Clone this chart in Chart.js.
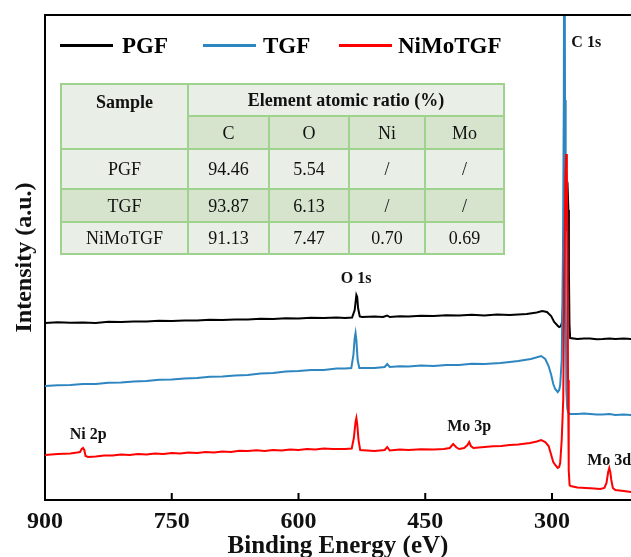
<!DOCTYPE html>
<html><head><meta charset="utf-8">
<script src="https://cdn.jsdelivr.net/npm/chart.js@4/dist/chart.umd.min.js"></script>
<style>
html,body{margin:0;padding:0;background:#fff;overflow:hidden;}
#wrap{position:relative;width:631px;height:557px;}
#c{position:absolute;left:0;top:0;}
.legtxt{position:absolute;font:bold 23px 'Liberation Serif',serif;line-height:23px;height:23px;top:34px;}
.legline{position:absolute;height:3px;top:44px;width:53px;}
table{position:absolute;left:60px;top:83px;border-collapse:collapse;table-layout:fixed;font:18px 'Liberation Serif',serif;color:#111;}
td{border:2px solid #9fd28c;text-align:center;padding:0;line-height:18px;}
td.b{font-weight:bold;}
.lt{background:#e9eee6;}
.dk{background:#d6e4ce;}
</style>
</head><body>
<div id="wrap">
<canvas id="c" width="631" height="557"></canvas>
<div class="legline" style="left:60px;background:#000"></div>
<div class="legtxt" style="left:122px">PGF</div>
<div class="legline" style="left:203px;background:#2e86c1"></div>
<div class="legtxt" style="left:263px">TGF</div>
<div class="legline" style="left:339px;background:#ff0000"></div>
<div class="legtxt" style="left:398px">NiMoTGF</div>
<table id="tbl">
<colgroup><col style="width:127px"><col style="width:81px"><col style="width:80px"><col style="width:76px"><col style="width:79px"></colgroup>
<tbody id="tb"></tbody>
</table>
</div>
<script>
// ---------- data ----------
const xTickValues = [900, 750, 600, 450, 300];

const pgfEnergy = [900, 885, 870, 855, 840, 825, 810, 795, 780, 765, 750, 735, 720, 705, 690, 675, 660, 645, 630, 615, 600, 585, 570, 555, 545, 536.6, 533.5, 531.5, 530.5, 529.5, 527.5, 524.7, 510, 500, 495, 492, 480, 470, 455, 440, 425, 410, 395, 380, 365, 350, 330, 318, 311.6, 306, 301, 297.4, 293, 291.5, 289.5, 288, 286.5, 285.5, 284.5, 283.5, 282.5, 281.4, 280.6, 280, 279.3, 278.5, 270, 262, 255, 247, 240, 232, 225, 215, 206.2];
const pgfIntensity = [177, 177.8, 177.2, 177.6, 177, 178.2, 178, 178.6, 178.4, 179.2, 179, 179.6, 179.4, 180.2, 180, 180.6, 180.4, 181.2, 181, 181.8, 181.5, 182.2, 182, 182.6, 182, 182.5, 190, 205, 203, 192, 183.5, 183, 183.6, 183, 184.5, 183, 183.8, 183.5, 184.2, 184, 184.8, 184.5, 185.2, 184.5, 185.4, 185, 186, 187.5, 189, 188, 184, 178, 174, 173, 174, 178, 200, 235, 270, 295, 305, 310, 290, 230, 175, 162, 161, 161.6, 161.5, 160.8, 161, 161.5, 161, 161.4, 161];

const tgfEnergy = [900, 885, 870, 855, 840, 825, 810, 795, 780, 765, 750, 735, 720, 705, 690, 675, 660, 645, 630, 615, 600, 585, 570, 555, 545, 537.5, 535, 533.5, 532.5, 531.5, 530, 528, 510, 498, 495, 492, 480, 470, 455, 440, 425, 410, 395, 380, 361, 350, 340, 325, 312.8, 308, 304, 300.9, 298.5, 296.2, 293.2, 291.5, 290.3, 288.5, 287, 286, 285.3, 284.6, 283.8, 283, 282, 281, 279, 270, 262, 255, 247, 240, 232, 225, 215, 206.2];
const tgfIntensity = [114, 114.8, 115, 116, 116, 117.2, 117.5, 118.6, 119, 120.2, 120.5, 121.6, 122, 123.2, 123.5, 124.6, 125, 126.4, 127, 128.4, 129, 130, 130, 131.4, 131.5, 132, 145, 162, 167, 160, 140, 132, 132, 133, 136, 133, 133.8, 133.5, 134.4, 134, 135, 135, 136.2, 136, 137, 138, 139, 141, 144, 141, 134, 125, 116, 111, 108, 110, 115, 140, 250, 400, 700, 400, 200, 110, 92, 88, 86, 86, 86.6, 86, 85.4, 85.5, 86, 85, 85.4, 85];

const nimoEnergy = [900, 885, 870, 862, 858.6, 856.5, 855, 853.5, 852, 849, 840, 830, 820, 810, 800, 790, 780, 770, 760, 750, 740, 730, 720, 710, 700, 690, 680, 670, 660, 650, 640, 630, 620, 610, 600, 590, 580, 570, 560, 545, 537, 534.5, 532.5, 531.5, 530.5, 529, 527, 510, 498, 495, 492, 480, 470, 455, 440, 428, 421, 417, 413, 409.8, 404, 400, 398, 396, 393, 380, 370, 360, 350, 340, 326, 318, 312.8, 308, 304, 300.9, 298.5, 296.2, 293.2, 291.5, 290.3, 288.5, 286.7, 285.2, 284.2, 283.2, 282.4, 281.6, 281, 280.2, 279.2, 278, 270, 260, 250, 243, 238, 235.5, 233.5, 232.2, 231, 229.8, 228, 225, 215, 206.2];
const nimoIntensity = [45, 46, 46.5, 47.5, 48, 51, 52, 50, 44, 43, 43.5, 44.6, 44.5, 45.4, 45, 46, 45.5, 46.4, 46, 47, 46.5, 47.6, 47, 48, 47.5, 48.6, 48, 49.2, 49, 49.8, 49, 50, 49.5, 50.4, 50, 51, 50.5, 51.4, 51, 51, 51.5, 62, 78, 82, 76, 60, 50, 49, 50, 53, 49.5, 50.4, 50, 50.8, 50.5, 51, 52, 56, 52.5, 51, 52, 55, 58, 54, 52, 53, 53.8, 54, 55, 55.5, 57, 58.5, 60, 58, 54, 45, 38, 35, 32, 33, 37, 60, 100, 240, 320, 346, 330, 250, 120, 30, 15, 14, 12.5, 12, 11.5, 11, 12, 17, 28, 32, 28, 20, 12, 10, 9, 8];

const seriesNames = ['PGF', 'TGF', 'NiMoTGF'];
const seriesColors = ['#000000', '#2e86c1', '#ff0000'];

const annoText = ['C 1s', 'O 1s', 'Ni 2p', 'Mo 3p', 'Mo 3d'];
const annoEnergy = [259.5, 531.8, 849, 398, 232.3];
const annoIntensity = [457, 221, 65, 73, 39];

// table
const tableHeader = 'Element atomic ratio (%)';
const tableElements = ['C', 'O', 'Ni', 'Mo'];
const tableSamples = ['PGF', 'TGF', 'NiMoTGF'];
const tableValues = [
  ['94.46', '5.54', '/', '/'],
  ['93.87', '6.13', '/', '/'],
  ['91.13', '7.47', '0.70', '0.69']
];

// ---------- table build ----------
(function(){
  const tb = document.getElementById('tb');
  let h = '<tr style="height:32px"><td class="b lt" rowspan="2" style="vertical-align:top;padding-top:8px">Sample</td>' +
          '<td class="b lt" colspan="4">' + tableHeader + '</td></tr>';
  h += '<tr style="height:33px">' + tableElements.map(e => '<td class="dk">' + e + '</td>').join('') + '</tr>';
  const rowH = [40, 33, 32];
  tableSamples.forEach((s, i) => {
    const cls = i % 2 === 1 ? 'dk' : 'lt';
    h += '<tr style="height:' + rowH[i] + 'px"><td class="' + cls + '">' + s + '</td>' +
         tableValues[i].map(v => '<td class="' + cls + '">' + v + '</td>').join('') + '</tr>';
  });
  tb.innerHTML = h;
})();

// ---------- chart ----------
const mk = (E, I) => E.map((e, i) => ({x: e, y: I[i]}));
const seriesData = [mk(pgfEnergy, pgfIntensity), mk(tgfEnergy, tgfIntensity), mk(nimoEnergy, nimoIntensity)];

const framePlugin = {
  id: 'frame',
  afterDraw(chart) {
    const {ctx, chartArea: a, scales: {x, y}} = chart;
    ctx.save();
    ctx.strokeStyle = '#000';
    ctx.lineWidth = 2;
    ctx.beginPath();
    ctx.moveTo(a.left - 1, a.top);
    ctx.lineTo(a.right, a.top);
    x.ticks.forEach(t => {
      const px = x.getPixelForValue(t.value);
      ctx.moveTo(px, a.bottom);
      ctx.lineTo(px, a.bottom - 7);
    });
    ctx.stroke();
    ctx.fillStyle = '#111';
    ctx.font = "bold 16px 'Liberation Serif', serif";
    ctx.textAlign = 'center';
    ctx.textBaseline = 'middle';
    annoText.forEach((t, i) => {
      ctx.fillText(t, x.getPixelForValue(annoEnergy[i]), y.getPixelForValue(annoIntensity[i]));
    });
    ctx.restore();
  }
};

new Chart(document.getElementById('c'), {
  type: 'line',
  data: {
    datasets: seriesNames.map((n, i) => ({
      label: n,
      data: seriesData[i],
      borderColor: seriesColors[i],
      backgroundColor: seriesColors[i],
      borderWidth: 2,
      pointRadius: 0,
      tension: 0,
      fill: false,
      order: 2 - i
    }))
  },
  options: {
    responsive: false,
    animation: false,
    devicePixelRatio: 1,
    layout: {padding: {top: 15, right: 0, left: 0, bottom: 0}},
    plugins: {legend: {display: false}, tooltip: {enabled: false}},
    scales: {
      x: {
        type: 'linear',
        reverse: true,
        min: 206.5,
        max: 900,
        afterFit: s => { s.height = 57; },
        afterBuildTicks: s => { s.ticks = xTickValues.map(v => ({value: v})); },
        grid: {display: false, drawTicks: false},
        border: {display: true, color: '#000', width: 2},
        ticks: {
          autoSkip: false, maxRotation: 0, padding: 7, color: '#111',
          font: {family: "'Liberation Serif', serif", size: 24, weight: 'bold'}
        },
        title: {
          display: true, text: 'Binding Energy (eV)', color: '#111',
          padding: {top: -5, bottom: -5},
          font: {family: "'Liberation Serif', serif", size: 25, weight: 'bold'}
        }
      },
      y: {
        type: 'linear',
        min: 0,
        max: 485,
        afterFit: s => { s.width = 45; },
        grid: {display: false, drawTicks: false},
        border: {display: true, color: '#000', width: 2},
        ticks: {display: false},
        title: {
          display: true, text: 'Intensity (a.u.)', color: '#111',
          padding: {top: 10, bottom: 0},
          font: {family: "'Liberation Serif', serif", size: 24, weight: 'bold'}
        }
      }
    }
  },
  plugins: [framePlugin]
});
</script>
</body></html>
